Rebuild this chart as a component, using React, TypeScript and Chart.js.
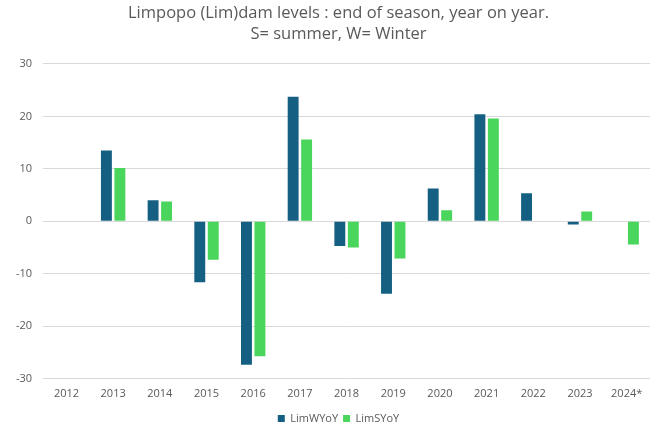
import React, { useEffect, useRef } from "react";
import { Chart, registerables } from "chart.js";

Chart.register(...registerables);

const categories = ["2012", "2013", "2014", "2015", "2016", "2017", "2018", "2019", "2020", "2021", "2022", "2023", "2024*"];
const limW = [null, 13.5, 4.0, -11.6, -27.3, 23.75, -4.7, -13.8, 6.25, 20.4, 5.35, -0.6, null];
const limS = [null, 10.15, 3.8, -7.3, -25.7, 15.6, -5.0, -7.1, 2.1, 19.6, null, 1.9, -4.4];
const yTicks = [-30, -20, -10, 0, 10, 20, 30];
const titleLines = ["Limpopo (Lim)dam levels : end of season, year on year.", "S= summer, W= Winter"];

const FONT = "'Open Sans', sans-serif";

const shiftBlocks = {
  id: "shiftBlocks",
  afterLayout(chart: any) {
    const dx = 22;
    if (chart.titleBlock) {
      chart.titleBlock.left += dx;
    }
    if (chart.legend) {
      chart.legend.left += dx;
    }
  },
};

export default function App() {
  const ref = useRef<HTMLCanvasElement>(null);
  useEffect(() => {
    document.body.style.margin = "0";
    const ctx = ref.current!;
    const chart = new Chart(ctx, {
      type: "bar",
      data: {
        labels: categories,
        datasets: [
          { label: "LimWYoY", data: limW, backgroundColor: "#156082", categoryPercentage: 0.577, barPercentage: 0.81 },
          { label: "LimSYoY", data: limS, backgroundColor: "#4ad65c", categoryPercentage: 0.577, barPercentage: 0.81 },
        ],
      },
      plugins: [shiftBlocks],
      options: {
        animation: false,
        responsive: false,
        maintainAspectRatio: false,
        layout: { padding: { left: 5, right: 9, top: 0, bottom: -7 } },
        plugins: {
          title: {
            display: true,
            text: titleLines,
            color: "#595959",
            font: { family: FONT, size: 16.5, weight: "normal", lineHeight: 1.27 },
            padding: { top: 3, bottom: 19 },
          },
          legend: {
            position: "bottom",
            labels: {
              color: "#595959",
              font: { family: FONT, size: 11 },
              boxWidth: 7,
              boxHeight: 7,
              padding: 5,
            },
          },
          tooltip: { enabled: false },
        },
        scales: {
          x: {
            grid: { display: false, drawTicks: false },
            border: { display: false },
            ticks: { color: "#595959", font: { family: FONT, size: 11 }, padding: 8 },
          },
          y: {
            min: -30,
            max: 30,
            afterBuildTicks: (axis: any) => {
              axis.ticks = yTicks.map((v) => ({ value: v }));
            },
            grid: { color: "#d9d9d9", lineWidth: 1, drawTicks: false },
            border: { display: false },
            ticks: { color: "#595959", font: { family: FONT, size: 11 }, padding: 11 },
          },
        },
      },
    });
    return () => chart.destroy();
  }, []);
  return (
    <div style={{ width: 659, height: 427 }}>
      <canvas ref={ref} width={659} height={427} />
    </div>
  );
}
